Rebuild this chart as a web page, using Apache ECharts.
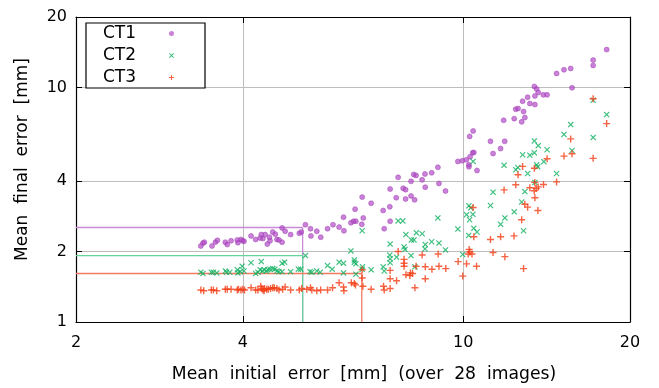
<!DOCTYPE html>
<html><head><meta charset="utf-8">
<script src="https://cdn.jsdelivr.net/npm/echarts@6/dist/echarts.min.js"></script>
<style>html,body{margin:0;padding:0;background:#fff}#c{width:659px;height:388px}</style>
</head><body><div id="c"></div>
<script>
const seriesNames = ['CT1', 'CT2', 'CT3'];
const xTicks = [2, 4, 10, 20];
const yTicks = [1, 2, 4, 10, 20];

const ct1 = [[3.36,2.11],[3.39,2.17],[3.41,2.19],[3.52,2.11],[3.57,2.19],[3.60,2.23],[3.72,2.19],[3.75,2.14],[3.81,2.22],[3.91,2.24],[3.92,2.18],[3.97,2.25],[4.00,2.22],[4.02,2.21],[4.14,2.33],[4.22,2.25],[4.30,2.28],[4.32,2.36],[4.35,2.27],[4.39,2.36],[4.43,2.15],[4.47,2.30],[4.48,2.22],[4.53,2.42],[4.58,2.37],[4.61,2.25],[4.65,2.24],[4.71,2.52],[4.71,2.19],[4.77,2.44],[4.88,2.36],[5.06,2.39],[5.10,2.42],[5.19,2.60],[5.30,2.50],[5.31,2.33],[5.44,2.44],[5.53,2.30],[5.69,2.50],[5.82,2.60],[5.97,2.54],[6.09,2.45],[6.08,2.80],
[6.57,3.41],[6.82,3.21],[6.38,3.03],[7.17,2.99],[6.60,2.78],[6.27,2.65],[6.34,2.69],[6.40,2.69],[6.56,2.61],[7.38,2.69],[7.20,2.50],[7.37,3.10],[7.38,3.69],[7.57,3.39],[7.63,4.14],[7.79,3.72],[7.87,3.67],[7.87,3.35],[8.05,3.45],[8.17,3.32],[8.05,3.98],[8.43,4.04],[8.14,4.26],[8.22,4.22],[8.53,4.28],[8.77,4.33],[9.00,4.57],[9.04,3.90],[8.54,3.76],[9.29,3.62],[9.78,4.84],[9.96,4.87],[10.13,4.92],[10.29,5.07],[10.40,5.27],[10.45,5.29],[10.24,4.68],[10.24,4.59],[10.59,4.43],[10.27,6.19],[10.42,6.53],[11.20,5.90],[11.88,5.90],[11.68,5.49],[11.32,5.23],
[11.83,7.25],[12.36,7.37],[12.75,7.14],[12.92,7.45],[12.44,8.08],[12.56,8.14],[12.85,7.90],[12.80,8.75],[13.07,9.10],[13.19,8.55],[13.47,8.46],[13.44,10.11],[13.57,9.86],[13.66,9.53],[13.47,9.21],[13.95,9.31],[14.17,9.31],[14.74,11.49],[15.20,11.91],[15.63,12.07],[15.72,9.98],[17.16,13.10],[17.16,12.43],[18.15,14.52]];

const ct2 = [[3.36,1.63],[3.39,1.61],[3.51,1.63],[3.54,1.63],[3.59,1.62],[3.72,1.65],[3.74,1.63],[3.79,1.63],[3.91,1.67],[3.92,1.62],[3.96,1.64],[3.99,1.73],[4.02,1.65],[4.14,1.79],[4.22,1.61],[4.26,1.63],[4.32,1.81],[4.30,1.67],[4.34,1.65],[4.37,1.67],[4.41,1.65],[4.44,1.67],[4.48,1.68],[4.53,1.69],[4.57,1.68],[4.61,1.65],[4.65,1.64],[4.71,1.78],[4.71,1.64],[4.76,1.80],[4.88,1.64],[5.04,1.68],[5.09,1.68],[5.19,1.92],[5.29,1.64],[5.33,1.63],[5.44,1.65],[5.52,1.63],[5.69,1.74],[5.80,1.68],[5.97,1.80],[6.08,1.78],[6.08,1.62],
[6.57,2.45],[7.63,2.70],[7.78,2.70],[7.88,2.36],[7.38,2.15],[7.82,2.09],[7.85,2.04],[6.27,2.01],[7.37,1.93],[7.38,1.86],[7.38,1.79],[7.58,1.89],[6.36,1.84],[6.36,1.80],[6.40,1.77],[6.58,1.72],[6.57,1.68],[6.82,1.67],[7.17,1.72],[7.20,1.65],[6.40,1.60],[8.18,1.72],[8.05,1.92],[9.98,1.94],[9.29,2.03],[9.04,2.17],[8.77,2.20],[8.54,2.14],[8.53,2.05],[8.06,2.24],[8.15,2.24],[8.23,2.40],[8.43,2.38],[10.23,2.34],[10.45,2.51],[10.59,2.42],[9.78,2.49],[9.00,2.78],[10.27,2.73],[10.14,2.87],[10.41,2.88],[10.24,3.13],[10.32,3.07],[10.42,4.84],[11.20,3.14],[11.68,2.61],[11.89,2.78],[12.36,2.95],[12.75,3.25],[12.85,2.45],[12.92,3.60],[11.32,3.58],[13.47,3.94],[13.07,4.30],[14.74,4.30],[11.85,4.66],[12.55,4.56],[12.44,4.46],[13.63,4.59],[13.57,4.68],[13.98,4.83],[12.80,5.17],[13.19,5.15],[13.44,5.27],[13.44,5.92],[13.66,5.65],[14.17,5.43],[15.72,5.39],[15.20,6.31],[15.63,6.95],[17.16,6.13],[18.15,7.67],[17.16,8.83]];

const ct3 = [[3.36,1.37],[3.40,1.36],[3.51,1.37],[3.54,1.37],[3.59,1.36],[3.72,1.38],[3.75,1.38],[3.81,1.38],[3.91,1.37],[3.93,1.38],[3.97,1.37],[4.00,1.38],[4.03,1.37],[4.14,1.40],[4.22,1.37],[4.26,1.37],[4.31,1.42],[4.33,1.39],[4.35,1.37],[4.37,1.36],[4.38,1.39],[4.42,1.38],[4.45,1.38],[4.49,1.39],[4.53,1.40],[4.56,1.40],[4.61,1.39],[4.65,1.37],[4.72,1.38],[4.77,1.41],[4.88,1.37],[5.06,1.37],[5.11,1.39],[5.22,1.38],[5.30,1.40],[5.33,1.37],[5.44,1.36],[5.53,1.37],[5.69,1.37],[5.81,1.40],[5.97,1.47],[6.08,1.41],[6.09,1.36],
[6.28,1.47],[6.36,1.46],[6.39,1.44],[6.57,1.67],[6.59,1.42],[6.57,1.54],[6.82,1.38],[7.18,1.42],[7.20,1.37],[7.38,1.39],[7.38,1.53],[7.58,1.50],[7.38,1.66],[7.63,2.00],[7.82,1.85],[7.82,1.78],[7.82,1.73],[7.88,1.59],[8.03,1.62],[8.10,1.61],[8.01,1.58],[8.18,1.40],[8.22,1.73],[8.43,1.93],[8.54,1.72],[8.54,1.53],[8.78,1.68],[9.01,1.95],[9.04,1.73],[9.30,1.69],[9.79,1.81],[9.98,1.57],[10.14,1.77],[10.57,1.73],[10.25,2.04],[10.28,1.99],[10.21,1.95],[10.37,1.95],[10.45,2.31],[10.42,3.08],[11.20,2.25],[11.32,1.98],[11.68,2.31],[11.89,1.90],[12.35,2.33],[12.85,1.69],[12.75,2.73],[12.92,3.18],[13.07,3.09],[13.47,3.39],[13.64,2.99],[11.85,3.66],[12.44,3.85],[12.56,4.25],[12.80,4.61],[13.44,4.53],[13.46,3.94],[13.19,3.74],[13.66,3.77],[13.54,3.71],[13.43,3.63],[13.96,3.86],[14.17,4.97],[14.74,3.96],[15.20,5.10],[15.72,5.22],[15.63,6.04],[17.16,4.99],[18.15,7.02],[17.16,8.96]];

// mean markers: [x, y]
const ct1Mean = [5.13, 2.53];
const ct2Mean = [5.13, 1.92];
const ct3Mean = [6.56, 1.61];

const X_MIN = 2, X_MAX = 20, Y_MIN = 1, Y_MAX = 20;
const FONT = 'DejaVu Sans';
const markerColors = ['rgba(176,72,196,0.85)', '#12b062', '#f23c14'];
const lineColors = ['#c98ad6', '#66d49a', '#f27a62'];
const symbols = [
  'circle',
  'path://M0,1.4L1.4,0L5,3.6L8.6,0L10,1.4L6.4,5L10,8.6L8.6,10L5,6.4L1.4,10L0,8.6L3.6,5Z',
  'path://M4,0H6V4H10V6H6V10H4V6H0V4H4Z'
];
const symbolSizes = [5, 6, 7];
const datasets = [ct1, ct2, ct3];
const means = [ct1Mean, ct2Mean, ct3Mean];

function meanPath(m) { return [[X_MIN, m[1]], [m[0], m[1]], [m[0], Y_MIN]]; }

const lineSeries = means.map((m, i) => ({
  type: 'line', name: seriesNames[i] + ' mean', data: meanPath(m),
  symbol: 'none', silent: true, z: 1,
  lineStyle: { color: lineColors[i], width: 1.3 }
}));
const scatterSeries = datasets.map((d, i) => ({
  type: 'scatter', name: seriesNames[i], data: d, z: 3 + i,
  symbol: symbols[i], symbolSize: symbolSizes[i],
  itemStyle: i === 0
    ? { color: markerColors[0], borderColor: '#a040b4', borderWidth: 0.6 }
    : { color: markerColors[i] }
}));

const baseAxis = (pos, ticks, showLabels, grid) => ({
  type: 'log', position: pos,
  min: pos === 'bottom' || pos === 'top' ? X_MIN : Y_MIN,
  max: pos === 'bottom' || pos === 'top' ? X_MAX : Y_MAX,
  axisLine: { show: true, onZero: false, lineStyle: { color: '#000', width: 1.2 } },
  axisTick: { show: true, inside: true, length: 6, customValues: ticks, lineStyle: { color: '#000', width: 1 } },
  minorTick: { show: false },
  axisLabel: showLabels ? { show: true, customValues: ticks, color: '#000', fontFamily: FONT, fontSize: 16 } : { show: false },
  splitLine: { show: grid, lineStyle: { color: '#bdbdbd', width: 1 } },
  minorSplitLine: { show: false }
});

const xMain = Object.assign(baseAxis('bottom', xTicks, true, true), {
  name: 'Mean  initial  error  [mm]  (over  28  images)', nameLocation: 'middle', nameGap: 44,
  nameTextStyle: { color: '#000', fontFamily: FONT, fontSize: 17.2, padding: [0, 0, 0, 22] }
});
xMain.axisLabel.margin = 13;
const yMain = Object.assign(baseAxis('left', yTicks, true, true), {
  name: 'Mean  final  error  [mm]', nameLocation: 'middle', nameGap: 45,
  nameTextStyle: { color: '#000', fontFamily: FONT, fontSize: 17, padding: [0, 0, 0, 20] }
});
yMain.axisLabel.margin = 9;

const option = {
  animation: false,
  backgroundColor: '#fff',
  grid: { left: 76, right: 29, top: 17, bottom: 66, containLabel: false },
  legend: {
    data: [
      { name: 'CT1', icon: 'circle', itemStyle: { color: markerColors[0], borderWidth: 0 } },
      'CT2', 'CT3'
    ],
    orient: 'vertical', left: 86, top: 23, align: 'right',
    itemWidth: 5, itemHeight: 5, itemGap: 5,
    padding: [2, 31, 2, 17],
    borderColor: '#000', borderWidth: 1.2, backgroundColor: '#fff',
    formatter: n => '{t|' + n + '}',
    textStyle: { color: '#000', fontFamily: FONT, fontSize: 17, lineHeight: 17,
      rich: { t: { width: 61, align: 'left', fontFamily: FONT, fontSize: 17, color: '#000' } } },
    selectedMode: false
  },
  xAxis: [xMain, baseAxis('top', xTicks, false, false)],
  yAxis: [yMain, baseAxis('right', yTicks, false, false)],
  series: lineSeries.concat(scatterSeries)
};

const chart = echarts.init(document.getElementById('c'), null, { renderer: 'canvas' });
chart.setOption(option);
</script></body></html>
